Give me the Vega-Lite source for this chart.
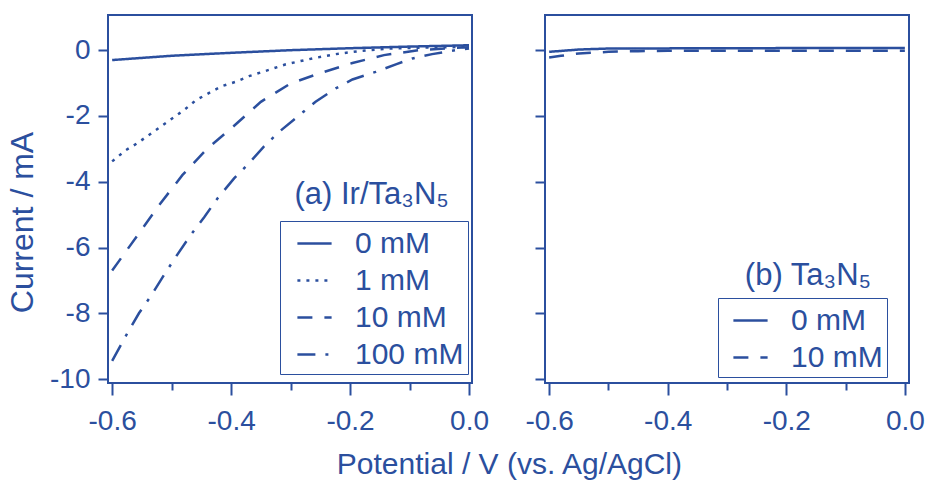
{
  "$schema": "https://vega.github.io/schema/vega-lite/v6.json",
  "padding": {"left": 5, "top": 14, "right": 5, "bottom": 2},
  "config": {
    "font": "Liberation Sans",
    "view": {"stroke": "#2b4f9e", "strokeWidth": 2},
    "axis": {"domain": false, "grid": false, "tickColor": "#2b4f9e", "tickWidth": 2, "labelColor": "#2b4f9e", "titleColor": "#2b4f9e", "labelFontSize": 28, "labelFont": "Liberation Sans", "titleFont": "Liberation Sans"}
  },
  "datasets": {
    "a": [
      {"c": "0 mM", "v": -0.6, "i": -0.3}, {"c": "0 mM", "v": -0.5, "i": -0.17}, {"c": "0 mM", "v": -0.4, "i": -0.08}, {"c": "0 mM", "v": -0.3, "i": 0.0}, {"c": "0 mM", "v": -0.2, "i": 0.06}, {"c": "0 mM", "v": -0.1, "i": 0.11}, {"c": "0 mM", "v": 0.0, "i": 0.15},
      {"c": "1 mM", "v": -0.6, "i": -3.38}, {"c": "1 mM", "v": -0.577, "i": -3.04}, {"c": "1 mM", "v": -0.557, "i": -2.82}, {"c": "1 mM", "v": -0.515, "i": -2.28}, {"c": "1 mM", "v": -0.479, "i": -1.82}, {"c": "1 mM", "v": -0.459, "i": -1.52}, {"c": "1 mM", "v": -0.434, "i": -1.27}, {"c": "1 mM", "v": -0.415, "i": -1.09}, {"c": "1 mM", "v": -0.392, "i": -0.96}, {"c": "1 mM", "v": -0.37, "i": -0.79}, {"c": "1 mM", "v": -0.347, "i": -0.66}, {"c": "1 mM", "v": -0.308, "i": -0.43}, {"c": "1 mM", "v": -0.263, "i": -0.25}, {"c": "1 mM", "v": -0.224, "i": -0.12}, {"c": "1 mM", "v": -0.185, "i": -0.03}, {"c": "1 mM", "v": -0.134, "i": 0.05}, {"c": "1 mM", "v": -0.07, "i": 0.08}, {"c": "1 mM", "v": 0.0, "i": 0.1},
      {"c": "10 mM", "v": -0.6, "i": -6.7}, {"c": "10 mM", "v": -0.557, "i": -5.62}, {"c": "10 mM", "v": -0.521, "i": -4.71}, {"c": "10 mM", "v": -0.482, "i": -3.8}, {"c": "10 mM", "v": -0.44, "i": -2.99}, {"c": "10 mM", "v": -0.4, "i": -2.38}, {"c": "10 mM", "v": -0.35, "i": -1.57}, {"c": "10 mM", "v": -0.3, "i": -1.01}, {"c": "10 mM", "v": -0.249, "i": -0.69}, {"c": "10 mM", "v": -0.196, "i": -0.39}, {"c": "10 mM", "v": -0.143, "i": -0.15}, {"c": "10 mM", "v": -0.084, "i": 0.0}, {"c": "10 mM", "v": -0.012, "i": 0.08}, {"c": "10 mM", "v": 0.0, "i": 0.09},
      {"c": "100 mM", "v": -0.6, "i": -9.45}, {"c": "100 mM", "v": -0.574, "i": -8.59}, {"c": "100 mM", "v": -0.555, "i": -8.0}, {"c": "100 mM", "v": -0.535, "i": -7.48}, {"c": "100 mM", "v": -0.513, "i": -6.84}, {"c": "100 mM", "v": -0.491, "i": -6.23}, {"c": "100 mM", "v": -0.468, "i": -5.62}, {"c": "100 mM", "v": -0.445, "i": -5.07}, {"c": "100 mM", "v": -0.423, "i": -4.51}, {"c": "100 mM", "v": -0.395, "i": -3.9}, {"c": "100 mM", "v": -0.37, "i": -3.44}, {"c": "100 mM", "v": -0.345, "i": -2.93}, {"c": "100 mM", "v": -0.319, "i": -2.48}, {"c": "100 mM", "v": -0.289, "i": -2.03}, {"c": "100 mM", "v": -0.258, "i": -1.57}, {"c": "100 mM", "v": -0.224, "i": -1.16}, {"c": "100 mM", "v": -0.196, "i": -0.89}, {"c": "100 mM", "v": -0.157, "i": -0.66}, {"c": "100 mM", "v": -0.123, "i": -0.43}, {"c": "100 mM", "v": -0.095, "i": -0.25}, {"c": "100 mM", "v": -0.062, "i": -0.12}, {"c": "100 mM", "v": -0.022, "i": 0.0}, {"c": "100 mM", "v": 0.0, "i": 0.05}
    ],
    "b": [
      {"c": "0 mM", "v": -0.6, "i": -0.05}, {"c": "0 mM", "v": -0.55, "i": 0.02}, {"c": "0 mM", "v": -0.5, "i": 0.05}, {"c": "0 mM", "v": -0.3, "i": 0.06}, {"c": "0 mM", "v": 0.0, "i": 0.07},
      {"c": "10 mM", "v": -0.6, "i": -0.22}, {"c": "10 mM", "v": -0.58, "i": -0.17}, {"c": "10 mM", "v": -0.55, "i": -0.1}, {"c": "10 mM", "v": -0.5, "i": -0.05}, {"c": "10 mM", "v": -0.45, "i": -0.03}, {"c": "10 mM", "v": -0.4, "i": -0.02}, {"c": "10 mM", "v": 0.0, "i": -0.02}
    ],
    "la": [{"v": -0.034, "i": -4.68, "t": "(a) Ir/Ta₃N₅"}],
    "lb": [{"v": -0.057, "i": -7.13, "t": "(b) Ta₃N₅"}]
  },
  "title": {"text": "Potential / V (vs. Ag/AgCl)", "orient": "bottom", "anchor": "middle", "fontSize": 30, "fontWeight": "normal", "color": "#2b4f9e", "font": "Liberation Sans", "offset": 14, "dx": 44},
  "spacing": 34,
  "resolve": {"scale": {"strokeDash": "independent", "x": "independent", "y": "independent"}, "legend": {"strokeDash": "independent"}},
  "hconcat": [
    {
      "width": 364,
      "height": 368,
      "layer": [
        {
          "data": {"name": "a"},
          "mark": {"type": "line", "strokeWidth": 2.5, "color": "#2b4f9e"},
          "encoding": {
            "x": {"field": "v", "type": "quantitative", "scale": {"domain": [-0.607, 0.005], "nice": false, "zero": false},
              "axis": {"title": null, "values": [-0.6, -0.5, -0.4, -0.3, -0.2, -0.1, 0.0], "labelExpr": "abs(round(datum.value*10)) % 2 == 0 ? (datum.value < -0.01 ? '-' + format(abs(datum.value), '.1f') : '0.0') : ''", "tickSize": {"condition": {"test": "abs(round(datum.value*10)) % 2 == 0", "value": 12}, "value": 7}, "labelPadding": 12}},
            "y": {"field": "i", "type": "quantitative", "scale": {"domain": [-10.12, 1.07], "nice": false, "zero": false},
              "axis": {"title": "Current / mA", "titleFontSize": 32, "titleFontWeight": "normal", "titlePadding": 10, "titleY": 207, "titleAnchor": "middle", "values": [-10, -8, -6, -4, -2, 0], "labelExpr": "datum.value < 0 ? '-' + format(abs(datum.value), 'd') : '0'", "tickSize": 10, "labelPadding": 8}},
            "strokeDash": {"field": "c", "type": "nominal",
              "scale": {"domain": ["0 mM", "1 mM", "10 mM", "100 mM"], "range": [[1, 0], [3, 6], [15, 12], [18, 10, 3, 10]]},
              "legend": {"title": null, "orient": "none", "legendX": 172, "legendY": 206, "strokeColor": "#2b4f9e", "padding": 4, "symbolType": "stroke", "symbolSize": 1170, "symbolStrokeWidth": 2.5, "symbolStrokeColor": "#2b4f9e", "labelFontSize": 30, "labelColor": "#2b4f9e", "labelFont": "Liberation Sans", "rowPadding": 3, "symbolOffset": 12, "labelOffset": 22}}
          }
        },
        {
          "data": {"name": "la"},
          "mark": {"type": "text", "align": "right", "baseline": "alphabetic", "fontSize": 31, "color": "#2b4f9e", "font": "Liberation Sans"},
          "encoding": {
            "x": {"field": "v", "type": "quantitative"},
            "y": {"field": "i", "type": "quantitative"},
            "text": {"field": "t"}
          }
        }
      ]
    },
    {
      "width": 364,
      "height": 368,
      "layer": [
        {
          "data": {"name": "b"},
          "mark": {"type": "line", "strokeWidth": 2.5, "color": "#2b4f9e"},
          "encoding": {
            "x": {"field": "v", "type": "quantitative", "scale": {"domain": [-0.607, 0.007], "nice": false, "zero": false},
              "axis": {"title": null, "values": [-0.6, -0.5, -0.4, -0.3, -0.2, -0.1, 0.0], "labelExpr": "abs(round(datum.value*10)) % 2 == 0 ? (datum.value < -0.01 ? '-' + format(abs(datum.value), '.1f') : '0.0') : ''", "tickSize": {"condition": {"test": "abs(round(datum.value*10)) % 2 == 0", "value": 12}, "value": 7}, "labelPadding": 12}},
            "y": {"field": "i", "type": "quantitative", "scale": {"domain": [-10.12, 1.07], "nice": false, "zero": false},
              "axis": {"title": null, "labels": false, "values": [-10, -8, -6, -4, -2, 0], "tickSize": 10}},
            "strokeDash": {"field": "c", "type": "nominal",
              "scale": {"domain": ["0 mM", "10 mM"], "range": [[1, 0], [15, 12]]},
              "legend": {"title": null, "orient": "none", "legendX": 173, "legendY": 283, "strokeColor": "#2b4f9e", "padding": 4, "symbolType": "stroke", "symbolSize": 1170, "symbolStrokeWidth": 2.5, "symbolStrokeColor": "#2b4f9e", "labelFontSize": 30, "labelColor": "#2b4f9e", "labelFont": "Liberation Sans", "rowPadding": 3, "symbolOffset": 10, "labelOffset": 22}}
          }
        },
        {
          "data": {"name": "lb"},
          "mark": {"type": "text", "align": "right", "baseline": "alphabetic", "fontSize": 31, "color": "#2b4f9e", "font": "Liberation Sans"},
          "encoding": {
            "x": {"field": "v", "type": "quantitative"},
            "y": {"field": "i", "type": "quantitative"},
            "text": {"field": "t"}
          }
        }
      ]
    }
  ]
}
